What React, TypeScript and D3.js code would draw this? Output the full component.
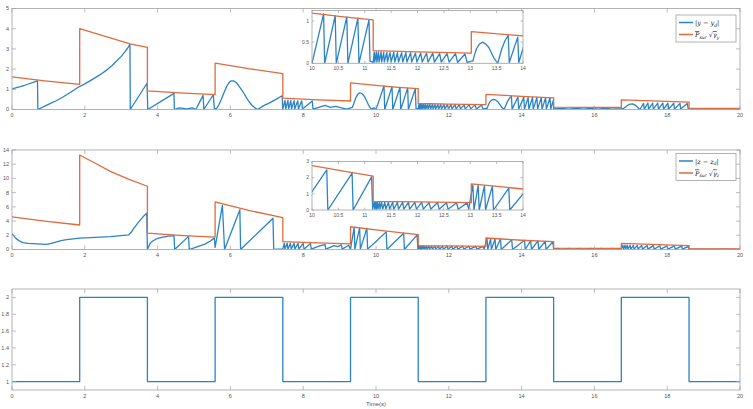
import React from 'react';
import * as d3 from 'd3';

type Pt = [number, number];

// switching instants and active mode
const switchTimes = [1.86, 3.72, 5.58, 7.44, 9.3, 11.16, 13.02, 14.88, 16.74, 18.6];
const modeValues = [1, 2, 1, 2, 1, 2, 1, 2, 1, 2, 1];

// |y - y_d|
const yErr: Pt[] = [
  [0, 1.02], [0.35, 1.2], [0.7, 1.42], [0.71, 0],
  [1.0, 0.25], [1.2, 0.42], [1.4, 0.62], [1.6, 0.84], [1.82, 1.1], [2.0, 1.27], [2.2, 1.48], [2.4, 1.7],
  [2.6, 1.95], [2.75, 2.18], [2.9, 2.45], [3.0, 2.63], [3.1, 2.85], [3.17, 3.02], [3.24, 3.22], [3.25, 0],
  [3.71, 1.3], [3.73, 0],
  [4.45, 0.8], [4.46, 0],
  [4.6, 0.08], [4.8, 0.03], [4.95, 0.08], [5.05, 0],
  [5.25, 0.7], [5.27, 0], [5.53, 0.73], [5.56, 0.03],
  [5.62, 0.05], [5.68, 0.22], [5.75, 0.5], [5.82, 0.82], [5.9, 1.15], [5.96, 1.33], [6.02, 1.42], [6.08, 1.42],
  [6.15, 1.35], [6.22, 1.2], [6.3, 1.0], [6.38, 0.78], [6.45, 0.55], [6.52, 0.37], [6.6, 0.2], [6.68, 0.07], [6.75, 0],
  [6.9, 0.18], [7.05, 0.3], [7.25, 0.5], [7.42, 0.68], [7.44, 0.02],
  [7.5, 0.45], [7.52, 0.03], [7.58, 0.45], [7.6, 0.03], [7.66, 0.44], [7.68, 0.03], [7.75, 0.44], [7.77, 0.03],
  [7.85, 0.43], [7.87, 0.03], [7.96, 0.43], [7.98, 0.02], [8.25, 0.42], [8.27, 0.02],
  [8.45, 0.12], [8.6, 0.2], [8.75, 0.1], [8.9, 0.16], [9.05, 0.08], [9.2, 0.02],
  [9.35, 0.1], [9.4, 0.35], [9.45, 0.6], [9.5, 0.75], [9.56, 0.83], [9.62, 0.78], [9.68, 0.65], [9.74, 0.43],
  [9.8, 0.2], [9.87, 0.02], [9.94, 0.08], [10.0, 0],
  [10.22, 1.17], [10.24, 0], [10.44, 1.13], [10.46, 0], [10.66, 1.1], [10.68, 0], [10.87, 1.07], [10.89, 0],
  [11.08, 1.03], [11.1, 0.05], [11.16, 0.02],
  [11.18, 0.27], [11.19, 0.03], [11.22, 0.27], [11.23, 0.03], [11.26, 0.27], [11.27, 0.03], [11.31, 0.27], [11.32, 0.03],
  [11.36, 0.26], [11.37, 0.03], [11.42, 0.26], [11.43, 0.03], [11.48, 0.26], [11.5, 0.03], [11.55, 0.26], [11.57, 0.03],
  [11.62, 0.25], [11.64, 0.03], [11.7, 0.25], [11.72, 0.03], [11.78, 0.25], [11.8, 0.03], [11.87, 0.25], [11.89, 0.03],
  [11.96, 0.24], [11.99, 0.03], [12.06, 0.24], [12.09, 0.03], [12.17, 0.24], [12.2, 0.03], [12.29, 0.24], [12.32, 0.03],
  [12.42, 0.23], [12.45, 0.03], [12.56, 0.23], [12.6, 0.03], [12.72, 0.23], [12.76, 0.02], [12.9, 0.22], [12.94, 0.02],
  [13.02, 0.05], [13.05, 0.05], [13.08, 0.2], [13.12, 0.35], [13.17, 0.45], [13.23, 0.5], [13.29, 0.46],
  [13.35, 0.38], [13.4, 0.25], [13.45, 0.12], [13.52, 0],
  [13.6, 0.35], [13.66, 0.54], [13.72, 0.66], [13.74, 0.02], [13.9, 0.62], [13.92, 0.02],
  [14.06, 0.6], [14.08, 0.02], [14.18, 0.6], [14.2, 0.02], [14.3, 0.6], [14.32, 0.02], [14.42, 0.6], [14.44, 0.02],
  [14.54, 0.59], [14.56, 0.02], [14.66, 0.58], [14.68, 0.02], [14.78, 0.58], [14.8, 0.02], [14.87, 0.45], [14.88, 0.03],
  [15.1, 0.06], [15.3, 0.02], [15.5, 0.06], [15.7, 0.02], [15.9, 0.06], [16.1, 0.02], [16.3, 0.06], [16.5, 0.02], [16.74, 0.04],
  [16.8, 0.05], [16.88, 0.16], [16.95, 0.25], [17.05, 0.28], [17.12, 0.22], [17.18, 0.12], [17.25, 0],
  [17.35, 0.3], [17.37, 0.02], [17.47, 0.32], [17.49, 0.02], [17.6, 0.32], [17.62, 0.02], [17.74, 0.32], [17.76, 0.02],
  [17.88, 0.32], [17.9, 0.02], [18.02, 0.31], [18.04, 0.02], [18.18, 0.31], [18.2, 0.02], [18.35, 0.3], [18.37, 0.02],
  [18.55, 0.3], [18.58, 0.02],
  [18.7, 0.03], [19.0, 0.02], [19.5, 0.03], [20, 0.02],
];

// bound for |y - y_d|
const yBound: Pt[] = [
  [0, 1.62], [0.9, 1.42], [1.86, 1.24],
  [1.86, 4.0], [2.7, 3.55], [3.24, 3.25], [3.72, 3.07],
  [3.72, 0.92], [4.6, 0.82], [5.58, 0.74],
  [5.58, 2.3], [6.5, 2.02], [7.44, 1.78],
  [7.44, 0.56], [8.4, 0.48], [9.3, 0.42],
  [9.3, 1.32], [10.0, 1.19], [10.6, 1.1], [11.16, 1.03],
  [11.16, 0.3], [12.0, 0.27], [13.02, 0.24],
  [13.02, 0.75], [14.0, 0.65], [14.88, 0.58],
  [14.88, 0.12], [16.74, 0.1],
  [16.74, 0.48], [18.6, 0.37],
  [18.6, 0.07], [20, 0.05],
];

// |z - z_d|
const zErr: Pt[] = [
  [0, 2.2], [0.1, 1.6], [0.2, 1.2], [0.3, 0.98], [0.45, 0.85], [0.7, 0.8], [0.95, 0.72], [1.08, 0.85], [1.2, 1.05],
  [1.35, 1.25], [1.5, 1.4], [1.86, 1.6],
  [2.3, 1.7], [2.7, 1.8], [3.0, 1.95], [3.2, 2.05], [3.28, 2.45], [3.35, 3.0], [3.5, 4.0], [3.6, 4.6], [3.7, 5.1], [3.72, 0],
  [3.76, 0.5], [3.8, 0.9], [3.87, 1.2], [3.95, 1.45], [4.05, 1.62], [4.15, 1.75], [4.3, 1.87], [4.45, 1.95], [4.47, 0],
  [4.85, 1.85], [4.87, 0],
  [5.1, 0.4], [5.3, 0.75], [5.45, 1.2], [5.56, 1.6], [5.58, 0.3],
  [5.78, 6.2], [5.84, 0], [6.26, 5.6], [6.28, 0], [7.17, 4.4], [7.19, 0], [7.3, 0.05], [7.44, 0.1],
  [7.48, 0.9], [7.5, 0.05], [7.56, 0.9], [7.58, 0.05], [7.65, 0.88], [7.67, 0.05], [7.75, 0.88], [7.77, 0.05],
  [7.86, 0.87], [7.88, 0.05], [8.0, 0.86], [8.02, 0.05], [8.2, 0.85], [8.22, 0.05],
  [8.45, 0.5], [8.6, 0.7], [8.62, 0.05], [8.85, 0.55], [8.95, 0.4], [9.05, 0.65], [9.07, 0.05], [9.25, 0.6], [9.3, 0.05],
  [9.4, 3.1], [9.42, 0.05], [9.55, 3.05], [9.57, 0.05], [9.75, 3.0], [9.77, 0.05],
  [10.0, 1.14], [10.28, 2.48], [10.3, 0], [10.76, 2.28], [10.78, 0], [11.13, 2.05], [11.15, 0.05],
  [11.18, 0.5], [11.19, 0.05], [11.21, 0.5], [11.22, 0.05], [11.24, 0.5], [11.25, 0.05], [11.28, 0.5], [11.29, 0.05],
  [11.32, 0.49], [11.34, 0.05], [11.38, 0.49], [11.4, 0.05], [11.45, 0.49], [11.47, 0.05], [11.53, 0.48], [11.55, 0.05],
  [11.62, 0.48], [11.64, 0.05], [11.72, 0.48], [11.74, 0.05], [11.83, 0.47], [11.85, 0.05], [11.95, 0.47], [11.98, 0.05],
  [12.08, 0.47], [12.11, 0.05], [12.22, 0.46], [12.25, 0.05], [12.38, 0.46], [12.41, 0.05], [12.55, 0.45], [12.58, 0.05],
  [12.74, 0.45], [12.77, 0.05], [12.94, 0.44], [12.97, 0.05],
  [13.05, 1.55], [13.07, 0], [13.15, 1.52], [13.17, 0], [13.27, 1.5], [13.29, 0], [13.42, 1.47], [13.44, 0],
  [13.73, 1.36], [13.75, 0], [14.08, 1.3], [14.1, 0], [14.25, 1.25], [14.27, 0], [14.45, 1.2], [14.47, 0],
  [14.65, 1.15], [14.67, 0], [14.86, 1.1], [14.88, 0.05],
  [15.0, 0.15], [15.1, 0.03], [15.3, 0.15], [15.4, 0.03], [15.6, 0.15], [15.7, 0.03], [15.9, 0.14], [16.0, 0.03],
  [16.2, 0.14], [16.3, 0.03], [16.5, 0.14], [16.6, 0.03], [16.74, 0.1],
  [16.78, 0.6], [16.8, 0.05], [16.84, 0.6], [16.86, 0.05], [16.9, 0.6], [16.92, 0.05], [16.98, 0.6], [17.0, 0.05],
  [17.07, 0.58], [17.09, 0.05], [17.18, 0.58], [17.2, 0.05], [17.3, 0.57], [17.32, 0.05], [17.45, 0.56], [17.47, 0.05],
  [17.62, 0.55], [17.64, 0.05], [17.8, 0.53], [17.82, 0.05], [18.0, 0.5], [18.02, 0.05], [18.2, 0.5], [18.22, 0.05],
  [18.4, 0.48], [18.42, 0.05], [18.58, 0.45], [18.6, 0.03],
  [18.8, 0.05], [19.2, 0.03], [19.6, 0.05], [20, 0.03],
];

// bound for |z - z_d|
const zBound: Pt[] = [
  [0, 4.6], [0.9, 4.0], [1.86, 3.45],
  [1.86, 13.3], [2.3, 12.1], [2.7, 11.0], [3.2, 9.9], [3.72, 8.9],
  [3.72, 2.3], [4.6, 2.0], [5.58, 1.75],
  [5.58, 6.7], [6.5, 5.5], [7.44, 4.5],
  [7.44, 1.1], [8.4, 0.93], [9.3, 0.8],
  [9.3, 3.2], [10.0, 2.75], [10.6, 2.4], [11.16, 2.1],
  [11.16, 0.53], [12.0, 0.5], [13.02, 0.45],
  [13.02, 1.62], [14.0, 1.3], [14.88, 1.1],
  [14.88, 0.2], [16.74, 0.15],
  [16.74, 0.85], [18.6, 0.55],
  [18.6, 0.1], [20, 0.08],
];

const xTicks = [0, 2, 4, 6, 8, 10, 12, 14, 16, 18, 20];
const yTicks1 = [0, 1, 2, 3, 4, 5];
const yTicks2 = [0, 2, 4, 6, 8, 10, 12, 14];
const yTicks3 = [1, 1.2, 1.4, 1.6, 1.8, 2];
const insetXTicks = [10, 10.5, 11, 11.5, 12, 12.5, 13, 13.5, 14];
const insetYTicks1 = [0, 0.5, 1];
const insetYTicks2 = [0, 1, 2, 3];

const BLUE = '#2b83c6';
const ORANGE = '#e06a3c';
const AXIS = '#a0a0a0';
const LABEL = '#555';
const FONT = '"Liberation Sans", Arial, sans-serif';

type Series = { data: Pt[]; color: string; step?: boolean };

function Axes({ id, x, y, xTicks, yTicks, series, tick = 4, fs = 5.5 }: {
  id: string;
  x: d3.ScaleLinear<number, number>;
  y: d3.ScaleLinear<number, number>;
  xTicks: number[];
  yTicks: number[];
  series: Series[];
  tick?: number;
  fs?: number;
}) {
  const [x0, x1] = x.range();
  const [y0, y1] = y.range();
  return (
    <g>
      <rect x={x0} y={y1} width={x1 - x0} height={y0 - y1} fill="#fff" />
      <clipPath id={id}>
        <rect x={x0} y={y1} width={x1 - x0} height={y0 - y1} />
      </clipPath>
      <g clipPath={`url(#${id})`}>
        {series.map((s, i) => {
          const line = d3.line<Pt>().x((d) => x(d[0])).y((d) => y(d[1]));
          if (s.step) line.curve(d3.curveStepAfter);
          return (
            <path key={i} d={line(s.data) || ''} fill="none" stroke={s.color}
              strokeWidth={1.3} strokeLinejoin="round" />
          );
        })}
      </g>
      <rect x={x0} y={y1} width={x1 - x0} height={y0 - y1} fill="none" stroke={AXIS} strokeWidth={0.8} />
      {xTicks.map((t) => (
        <g key={'x' + t}>
          <line x1={x(t)} x2={x(t)} y1={y0} y2={y0 - tick} stroke={AXIS} strokeWidth={0.7} />
          <line x1={x(t)} x2={x(t)} y1={y1} y2={y1 + tick} stroke={AXIS} strokeWidth={0.7} />
          <text x={x(t)} y={y0 + fs + 2} fontSize={fs} fill={LABEL} textAnchor="middle" fontFamily={FONT}>{t}</text>
        </g>
      ))}
      {yTicks.map((t) => (
        <g key={'y' + t}>
          <line x1={x0} x2={x0 + tick} y1={y(t)} y2={y(t)} stroke={AXIS} strokeWidth={0.7} />
          <line x1={x1} x2={x1 - tick} y1={y(t)} y2={y(t)} stroke={AXIS} strokeWidth={0.7} />
          <text x={x0 - 3} y={y(t) + fs * 0.35} fontSize={fs} fill={LABEL} textAnchor="end" fontFamily={FONT}>{t}</text>
        </g>
      ))}
    </g>
  );
}

function Legend({ x, y, sym }: { x: number; y: number; sym: string }) {
  const math = '"DejaVu Serif", "Liberation Serif", serif';
  return (
    <g transform={`translate(${x},${y})`} fontFamily={math} fontSize={6.5} fill="#222">
      <rect width={60} height={27} fill="#fff" stroke={AXIS} strokeWidth={0.8} />
      <line x1={3} x2={17} y1={7.5} y2={7.5} stroke={BLUE} strokeWidth={1.5} />
      <text x={19} y={10}>
        |<tspan fontStyle="italic">{sym}</tspan> − <tspan fontStyle="italic">{sym}</tspan>
        <tspan fontSize={4.5} dy={1.5} fontStyle="italic">d</tspan><tspan dy={-1.5}>|</tspan>
      </text>
      <line x1={3} x2={17} y1={19.5} y2={19.5} stroke={ORANGE} strokeWidth={1.5} />
      <text x={19} y={22}>
        <tspan fontStyle="italic" textDecoration="overline">P</tspan>
        <tspan fontSize={4.5} dy={1.5} fontStyle="italic">sur</tspan>
        <tspan dy={-1.5}> √</tspan><tspan fontStyle="italic" textDecoration="overline">γ</tspan>
        <tspan fontSize={4.5} dy={1.5} fontStyle="italic">{sym}</tspan>
      </text>
    </g>
  );
}

export default function App() {
  const left = 12;
  const right = 740;
  const x = d3.scaleLinear().domain([0, 20]).range([left, right]);
  const y1 = d3.scaleLinear().domain([0, 5]).range([109.5, 8.5]);
  const y2 = d3.scaleLinear().domain([0, 14]).range([249.5, 150]);
  const y3 = d3.scaleLinear().domain([0.9, 2.1]).range([390, 289]);

  const xi = d3.scaleLinear().domain([10, 14]).range([312, 523]);
  const yi1 = d3.scaleLinear().domain([0, 1.25]).range([63.3, 10.5]);
  const yi2 = d3.scaleLinear().domain([0, 3]).range([210, 161.5]);

  const sigma: Pt[] = [
    [0, modeValues[0]],
    ...switchTimes.map((t, i) => [t, modeValues[i + 1]] as Pt),
    [20, modeValues[modeValues.length - 1]],
  ];

  return (
    <svg width={753} height={409} style={{ position: 'absolute', left: 0, top: 0, background: '#fff' }}>
      <Axes id="c1" x={x} y={y1} xTicks={xTicks} yTicks={yTicks1}
        series={[{ data: yErr, color: BLUE }, { data: yBound, color: ORANGE }]} />
      <Axes id="c1i" x={xi} y={yi1} xTicks={insetXTicks} yTicks={insetYTicks1} tick={2.5} fs={5}
        series={[{ data: yErr, color: BLUE }, { data: yBound, color: ORANGE }]} />
      <Legend x={676} y={15} sym="y" />

      <Axes id="c2" x={x} y={y2} xTicks={xTicks} yTicks={yTicks2}
        series={[{ data: zErr, color: BLUE }, { data: zBound, color: ORANGE }]} />
      <Axes id="c2i" x={xi} y={yi2} xTicks={insetXTicks} yTicks={insetYTicks2} tick={2.5} fs={5}
        series={[{ data: zErr, color: BLUE }, { data: zBound, color: ORANGE }]} />
      <Legend x={676} y={153.5} sym="z" />

      <Axes id="c3" x={x} y={y3} xTicks={xTicks} yTicks={yTicks3}
        series={[{ data: sigma, color: BLUE, step: true }]} />
      <text x={(left + right) / 2} y={406} fontSize={6} fill={LABEL} textAnchor="middle" fontFamily={FONT}>Time(s)</text>
    </svg>
  );
}
